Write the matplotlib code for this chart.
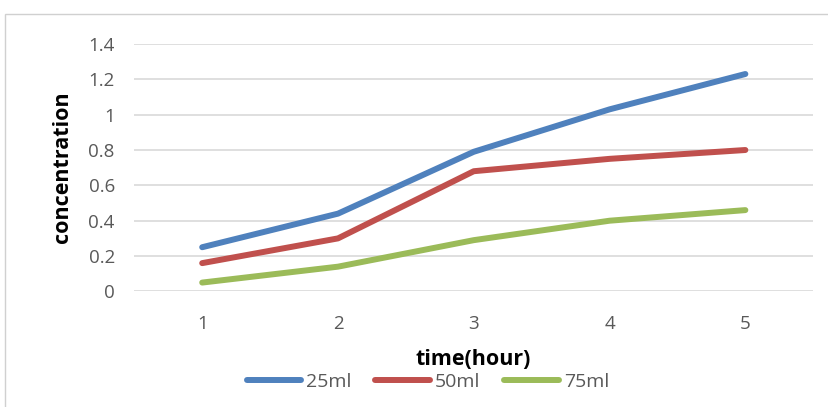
import matplotlib.pyplot as plt
from matplotlib.patches import Rectangle

hours = [1, 2, 3, 4, 5]
c25 = [0.25, 0.44, 0.79, 1.03, 1.23]
c50 = [0.16, 0.30, 0.68, 0.75, 0.80]
c75 = [0.05, 0.14, 0.29, 0.40, 0.46]
yticks = [0, 0.2, 0.4, 0.6, 0.8, 1, 1.2, 1.4]
ytick_labels = ['0', '0.2', '0.4', '0.6', '0.8', '1', '1.2', '1.4']

plt.rcParams['font.family'] = ['Open Sans', 'DejaVu Sans']

fig = plt.figure(figsize=(8.29, 4.07), dpi=100)
ax = fig.add_axes([0.162, 0.284, 0.819, 0.608])

# light chart frame
fig.patches.append(Rectangle((0.006, -0.01), 1.0, 0.975, transform=fig.transFigure,
                             fill=False, edgecolor='#d0d0d0', linewidth=1))

ax.plot(hours, c25, color='#4F81BD', linewidth=4.3, solid_capstyle='round', label='25ml')
ax.plot(hours, c50, color='#C0504D', linewidth=4.3, solid_capstyle='round', label='50ml')
ax.plot(hours, c75, color='#9BBB59', linewidth=4.3, solid_capstyle='round', label='75ml')

ax.set_xlim(0.5, 5.5)
ax.set_ylim(0, 1.4)
ax.set_yticks(yticks)
ax.set_yticklabels(ytick_labels)
ax.set_xticks(hours)
ax.yaxis.grid(True, color='#d9d9d9', linewidth=1.2)
ax.set_axisbelow(True)
for s in ax.spines.values():
    s.set_visible(False)
ax.tick_params(length=0, labelsize=13.5, colors='#595959')
ax.tick_params(axis='y', pad=14)
ax.tick_params(axis='x', pad=17)

ax.set_ylabel('concentration', fontsize=15.5, fontweight='bold', labelpad=11)
fig.text(0.571, 0.117, 'time(hour)', fontsize=15.5, fontweight='bold', ha='center', va='center')

ax.legend(loc='center', bbox_to_anchor=(0.516, 0.062), bbox_transform=fig.transFigure,
          ncol=3, frameon=False, fontsize=14, handlelength=2.8, columnspacing=1.25,
          handletextpad=0.25, labelcolor='#595959')

fig.savefig('out.png', dpi=100)
